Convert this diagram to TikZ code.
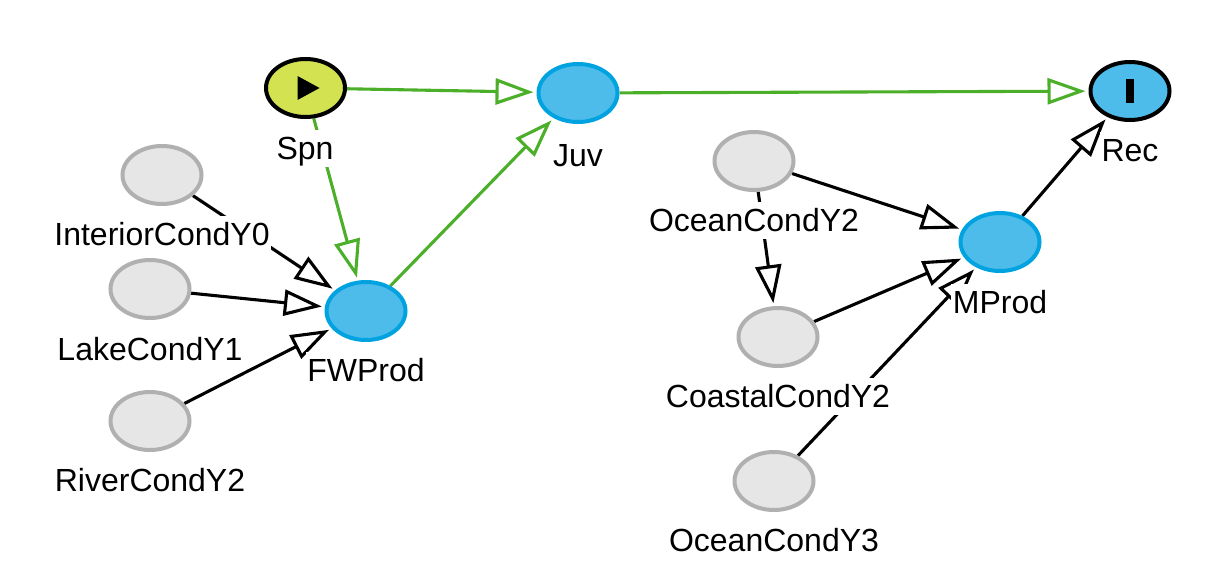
\documentclass[tikz,border=0pt]{standalone}
\usepackage{fontspec}
\setmainfont{Liberation Sans}
\usetikzlibrary{shapes.geometric,arrows.meta}
\definecolor{edgegreen}{HTML}{4CAF2A}
\definecolor{lblue}{HTML}{4DBCEA}
\definecolor{dblue}{HTML}{00A3E0}
\definecolor{lgrey}{HTML}{E6E6E6}
\definecolor{dgrey}{HTML}{B0B0B0}
\definecolor{lime}{HTML}{D2E250}
\tikzset{
  base/.style={ellipse,inner sep=0pt,minimum width=79pt,minimum height=58pt,line width=4pt},
  inter/.style={base,draw=dblue,fill=lblue},
  cond/.style={base,draw=dgrey,fill=lgrey},
  startn/.style={base,draw=black,fill=lime},
  endn/.style={base,draw=black,fill=lblue},
  lab/.style={font=\fontsize{32}{36}\selectfont,fill=white,inner sep=1.5pt,text height=28pt,text depth=5.5pt},
  conn/.style={line width=3.1pt,-{Triangle[open,fill=white,length=38pt,width=26pt]},shorten >=3pt},
  blk/.style={conn,draw=black},
  grn/.style={conn,draw=edgegreen},
}
\begin{document}
\begin{tikzpicture}[x=1pt,y=-1pt]
\useasboundingbox (0,0) rectangle (1212,583);
\pgfdeclarelayer{top}\pgfdeclarelayer{mid}\pgfsetlayers{main,mid,top}
\begin{pgfonlayer}{top}
\node[startn] (spn) at (305.5,88) {};
\node[inter] (juv) at (578,93) {};
\node[endn] (rec) at (1130,91) {};
\node[inter] (fw) at (366,311) {};
\node[inter] (mp) at (1000,242) {};
\node[cond] (ic) at (162,175) {};
\node[cond] (lc) at (150,289) {};
\node[cond] (rc) at (150,421) {};
\node[cond] (oc2) at (754,161) {};
\node[cond] (cc) at (778,337) {};
\node[cond] (oc3) at (774,481) {};
\fill[shift={(spn)}] (-8,-12) -- (14,0) -- (-8,12) -- cycle;
\fill[shift={(rec)}] (-4,-12) rectangle (4,12);
\end{pgfonlayer}
\begin{pgfonlayer}{mid}
\node[lab] (spnl) at (305,148.25) {Spn};
\node[lab] (juvl) at (578,155.25) {Juv};
\node[lab] (recl) at (1130,150.25) {Rec};
\node[lab] (fwl) at (366,370.25) {FWProd};
\node[lab] (mpl) at (1000,302.25) {MProd};
\node[lab] (icl) at (162,234.25) {InteriorCondY0};
\node[lab] (lcl) at (150,349.25) {LakeCondY1};
\node[lab] (rcl) at (150,480.25) {RiverCondY2};
\node[lab] (oc2l) at (754,220.25) {OceanCondY2};
\node[lab] (ccl) at (778,396.25) {CoastalCondY2};
\node[lab] (oc3l) at (774,540.25) {OceanCondY3};
\end{pgfonlayer}
\draw[grn] (spn) -- (juv);
\draw[grn] (spn) -- (fw);
\draw[grn] (fw) -- (juv);
\draw[grn] (juv) -- (rec);
\draw[blk] (ic) -- (fw);
\draw[blk] (lc) -- (fw);
\draw[blk] (rc) -- (fw);
\draw[blk] (oc2) -- (mp);
\draw[blk] (oc2) -- (cc);
\draw[blk] (cc) -- (mp);
\draw[blk] (oc3) -- (mp);
\draw[blk] (mp) -- (rec);
\end{tikzpicture}
\end{document}
